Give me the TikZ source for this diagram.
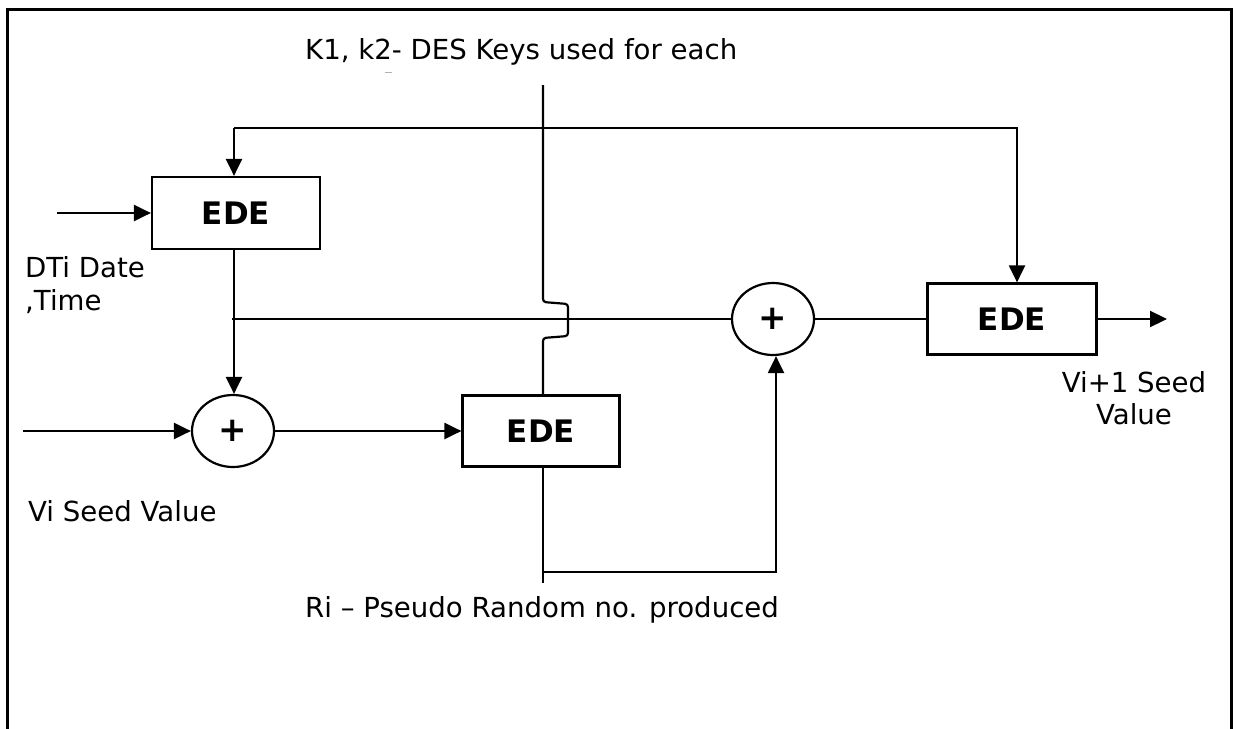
\documentclass[tikz,border=0pt]{standalone}
\usepackage{fontspec}
\setmainfont{DejaVu Sans}
\usetikzlibrary{arrows.meta,shapes.geometric}
\begin{document}
\begin{tikzpicture}[x=1pt,y=-1pt,
  wire/.style={line width=2.2pt},
  arr/.style={wire,-{Triangle[length=17pt,width=16pt]}},
  edebox/.style={draw,line width=2.2pt,font=\fontsize{31}{35}\selectfont\bfseries},
  sumnode/.style={draw,line width=2.2pt,ellipse,inner sep=0pt,minimum width=82pt,minimum height=72pt,font=\fontsize{34}{38}\selectfont\bfseries},
  lbl/.style={font=\fontsize{27.6}{32.5}\selectfont,inner sep=0pt}]
\useasboundingbox (0,0) rectangle (1236,728);
% outer frame (open at the bottom)
\draw[line width=3pt] (7,740) -- (7,9) -- (1231,9) -- (1231,740);

% blocks
\node[edebox, minimum width=168pt, minimum height=72pt] (ede1) at (236,213) {EDE};
\node[edebox, minimum width=157pt, minimum height=71pt] (ede2) at (541,431) {EDE};
\node[edebox, minimum width=169pt, minimum height=71pt] (ede3) at (1012,319) {EDE};
\node[sumnode] (s1) at (233,431) {+};
\node[sumnode] (s2) at (773,319) {+};

% free ends
\coordinate (inA) at (57,213);
\coordinate (inV) at (23,431);
\coordinate (outV) at (1167,319);
\coordinate (keyTop) at (543,85);
\coordinate (riEnd) at (543,583);
\coordinate (fbL) at (234,128);
\coordinate (fbR) at (1017,128);
\coordinate (dtiL) at (232,319);
\coordinate (brL) at (543,572);
\coordinate (brR) at (776,572);

% labels
\node[lbl, anchor=west] (keys) at (305,52) {K1, k2- DES Keys used for each};
\draw[gray!60, line width=1pt] (385,72) -- (392,72);
\node[lbl, anchor=west, align=left] (dti) at (25,285) {DTi Date\\,Time};
\node[lbl, anchor=west] (vi) at (28,511) {Vi Seed Value};
\node[lbl, align=center] (vnext) at (1134,398) {Vi+1 Seed\\Value};
\node[lbl, anchor=west] (ri) at (305,610) {Ri -- Pseudo Random no. produced};

% connectors
\draw[arr] (inA) -- (ede1.west);
\draw[arr] (fbL) -- (fbL |- ede1.north);
\draw[arr] (fbL) -- (fbR) -- (fbR |- ede3.north);
\draw[arr] (ede1.south -| fbL) -- (fbL |- s1.north);
\draw[arr] (inV) -- (s1.west);
\draw[arr] (s1.east) -- (ede2.west);
\draw[wire] (dtiL) -- (s2.west);
\draw[wire] (s2.east) -- (ede3.west);
\draw[arr] (ede3.east) -- (outV);
% key line with a hop over the DTi line
\draw[wire, rounded corners=3pt] (keyTop) -- (543,302) -- (568,304) -- (568,336) -- (543,338) -- (ede2.north -| keyTop);
\draw[wire] (ede2.south -| keyTop) -- (riEnd);
\draw[arr] (brL) -- (brR) -- (brR |- s2.south);
\end{tikzpicture}
\end{document}
